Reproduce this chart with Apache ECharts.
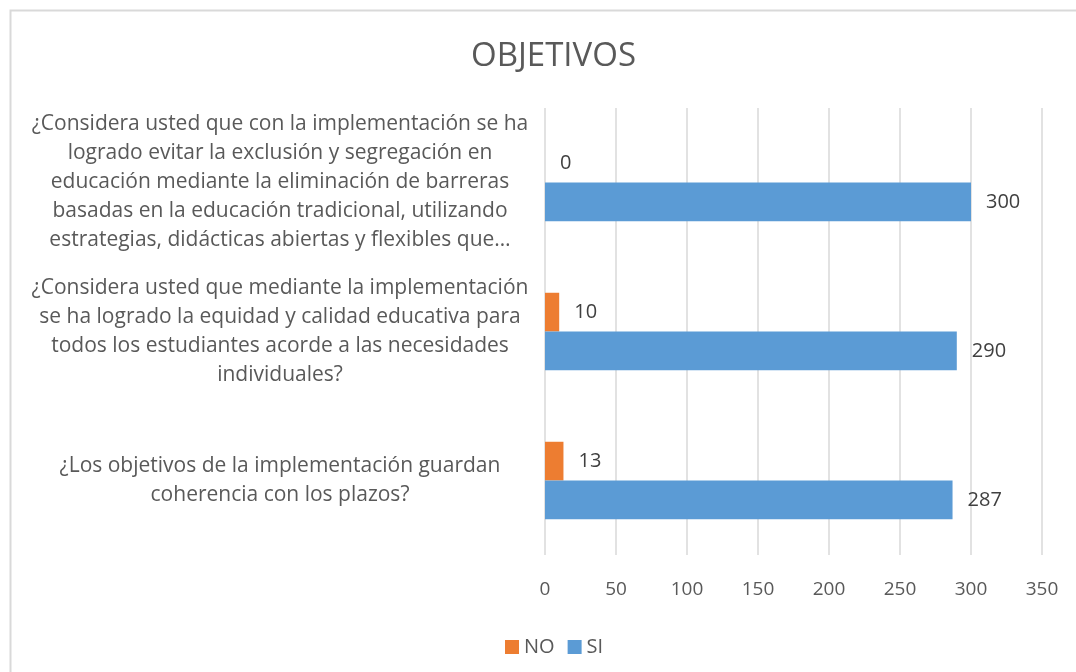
<!DOCTYPE html>
<html>
<head>
<meta charset="utf-8">
<script src="https://cdn.jsdelivr.net/npm/echarts@6/dist/echarts.min.js"></script>
<style>
html,body{margin:0;padding:0;background:#fff;}
#chart{width:1076px;height:672px;}
</style>
</head>
<body>
<div id="chart"></div>
<script>
const title = 'OBJETIVOS';
const categoryLines = [
  ['¿Los objetivos de la implementación guardan', 'coherencia con los plazos?'],
  ['¿Considera usted que mediante la implementación', 'se ha logrado la equidad y calidad educativa para', 'todos los estudiantes acorde a las necesidades', 'individuales?'],
  ['¿Considera usted que con la implementación se ha', 'logrado evitar la exclusión y segregación en', 'educación mediante la eliminación de barreras', 'basadas en la educación tradicional, utilizando', 'estrategias, didácticas abiertas y flexibles que…']
];
const categories = categoryLines.map(l => l.join(' '));
const seriesNames = ['NO', 'SI'];
const noValues = [13, 10, 0];
const siValues = [287, 290, 300];
const xTicks = [0, 50, 100, 150, 200, 250, 300, 350];

const FONT = "'Open Sans', 'Noto Sans', sans-serif";
const chart = echarts.init(document.getElementById('chart'), null, {renderer: 'canvas'});
chart.setOption({
  animation: false,
  backgroundColor: '#fff',
  graphic: [{
    type: 'rect', left: 8, top: 8, z: -1,
    shape: {width: 1200, height: 800},
    style: {fill: 'none', stroke: '#d9d9d9', lineWidth: 2}
  }],
  title: {
    text: title, left: 466, top: 35,
    textStyle: {fontFamily: FONT, fontSize: 33, fontWeight: 'normal', color: '#595959'}
  },
  legend: {
    data: seriesNames, left: 500, top: 632,
    itemWidth: 14, itemHeight: 14, itemGap: 13,
    icon: 'rect',
    textStyle: {fontFamily: FONT, fontSize: 20, color: '#595959'}
  },
  grid: {left: 545, right: 34, top: 108, bottom: 117, containLabel: false},
  xAxis: {
    type: 'value', min: xTicks[0], max: xTicks[xTicks.length - 1], interval: 50,
    axisLine: {show: false}, axisTick: {show: false},
    splitLine: {lineStyle: {color: '#d9d9d9', width: 1.5}},
    axisLabel: {fontFamily: FONT, fontSize: 19, color: '#595959', margin: 25}
  },
  yAxis: {
    type: 'category', data: categories,
    axisLine: {show: false}, axisTick: {show: false},
    axisLabel: {
      fontFamily: FONT, fontSize: 21, color: '#595959', lineHeight: 29,
      align: 'center', margin: 265, padding: [7, 0, 0, 0],
      formatter: (v, i) => categoryLines[i].join('\n')
    }
  },
  series: [
    {
      name: 'NO', type: 'bar', data: noValues,
      barCategoryGap: '48%', barGap: '0%',
      itemStyle: {color: '#ed7d31'},
      label: {show: true, position: 'right', distance: 15, fontFamily: FONT, fontSize: 20, color: '#404040', padding: [4, 0, 0, 0]}
    },
    {
      name: 'SI', type: 'bar', data: siValues,
      barCategoryGap: '48%', barGap: '0%',
      itemStyle: {color: '#5b9bd5'},
      label: {show: true, position: 'right', distance: 15, fontFamily: FONT, fontSize: 20, color: '#404040', padding: [4, 0, 0, 0]}
    }
  ]
});
</script>
</body>
</html>
